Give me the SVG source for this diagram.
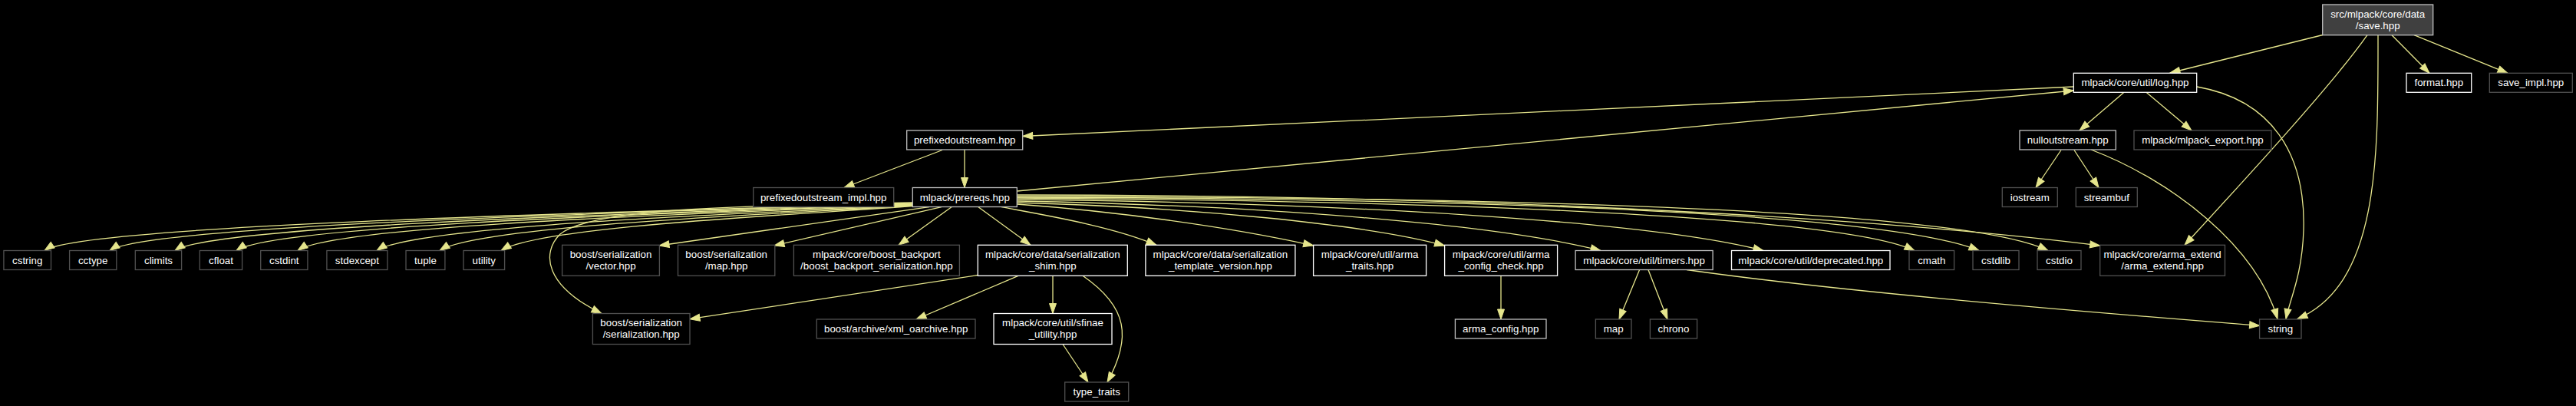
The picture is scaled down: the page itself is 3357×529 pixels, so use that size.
<svg xmlns="http://www.w3.org/2000/svg" width="3357" height="529" viewBox="0 0 3357 529">
<defs>
<style>
.n rect{fill:#000;stroke-width:1.3}
.w rect{stroke:#ffffff}
.g rect{stroke:#bfbfbf}
.d rect{stroke:#505050}
.f rect{fill:#404040;stroke:#bfbfbf}
text{font-family:"Liberation Sans",Arial,Helvetica,sans-serif;font-size:13.33px;fill:#ffffff;text-anchor:middle}
#edges path{fill:none;stroke:#e5e58c;stroke-width:1.3;marker-end:url(#a)}
</style>
<marker id="a" viewBox="0 0 13 9" refX="13" refY="4.5" markerWidth="13" markerHeight="9" markerUnits="userSpaceOnUse" orient="auto" overflow="visible">
<path d="M0,0 L13,4.5 L0,9 z" fill="#e5e58c" stroke="#e5e58c" stroke-width="1"/>
</marker>
</defs>
<rect width="3357" height="529" fill="#000"/>
<g id="edges">
<path d="M3027,45.5 L2828,95"/>
<path d="M3117,45.7 L3166,95.3"/>
<path d="M3146,45.7 L3268,95.3"/>
<path d="M3099,45.7 C3099,200 3102,370 2994,415.5"/>
<path d="M3085,45.7 C3040,110 2920,240 2847,319.3"/>
<path d="M2768,120.3 L2710,170"/>
<path d="M2797,120.3 L2856,170"/>
<path d="M2863,113 C2960,130 3005,200 3002,300 C3000,360 2984,390 2979,415.5"/>
<path d="M2702.3,113 L1332.7,177.5"/>
<path d="M1325.3,249 L2702.3,118"/>
<path d="M1257,195 L1257,244.5"/>
<path d="M1228,195.5 L1100,244.5"/>
<path d="M2686,195.5 L2653,244.5"/>
<path d="M2703,195.5 L2735,244.5"/>
<path d="M2725,195 C2830,235 2940,320 2968,415.5"/>
<path d="M1189.3,265 C906,274 110,291 58,326.5"/>
<path d="M1189.3,265.5 C927,274 195,291 143,326.5"/>
<path d="M1189.3,266 C949,275 280,291 228,326.5"/>
<path d="M1189.3,266.5 C969,275 360,291 308,326.5"/>
<path d="M1189.3,267 C989,276 440,291 388,326.5"/>
<path d="M1189.3,267.5 C1015,277 543,292 491,326.5"/>
<path d="M1189.3,268 C1035,278 625,293 573,326.5"/>
<path d="M1189.3,268.5 C1055,279 705,294 653,326.5"/>
<path d="M1211,269.7 L859,320"/>
<path d="M1227,269.7 L1009,320"/>
<path d="M1240,269.7 L1171,319.3"/>
<path d="M1275,269.7 L1343,319.3"/>
<path d="M1189.3,264 C950,268 770,272 730,305 C705,330 710,372 784,408.5"/>
<path d="M1305,269.7 C1360,280 1450,295 1507,319.3"/>
<path d="M1325.3,266 C1450,275 1600,295 1711.6,320"/>
<path d="M1325.3,264 C1550,270 1780,292 1882.6,320"/>
<path d="M1325.3,262 C1650,268 1950,292 2086,326.5"/>
<path d="M1325.3,260 C1750,264 2150,288 2298,326.5"/>
<path d="M1325.3,258 C1900,262 2400,282 2495,326.5"/>
<path d="M1325.3,257 C1950,259 2460,278 2579,326.5"/>
<path d="M1325.3,256 C2000,257 2560,274 2669,326.5"/>
<path d="M1325.3,254 C2000,254 2500,290 2736.7,320"/>
<path d="M1956,359.3 L1956,416"/>
<path d="M2136.6,351.5 L2110,416"/>
<path d="M2148,351.5 L2173,416"/>
<path d="M2198,351.5 C2400,380 2700,405 2944.6,424.3"/>
<path d="M1274.3,358.5 L899,415.7"/>
<path d="M1327,359.3 L1194,416"/>
<path d="M1372,359.3 L1372,408.5"/>
<path d="M1411,359.3 C1470,400 1475,440 1443,498"/>
<path d="M1385,448.5 L1418,498"/>
</g>
<g id="save" class="n f"><rect x="3026.7" y="6" width="144" height="39.7"/><text x="3098.7" y="22.5">src/mlpack/core/data</text><text x="3098.7" y="37.5">/save.hpp</text></g>
<g id="format" class="n w"><rect x="3136" y="95.3" width="84.7" height="25"/><text x="3178.3" y="112.4">format.hpp</text></g>
<g id="save_impl" class="n d"><rect x="3244.3" y="95.3" width="108" height="25"/><text x="3298.3" y="112.4">save_impl.hpp</text></g>
<g id="log" class="n w"><rect x="2702.3" y="95.3" width="160.4" height="25"/><text x="2782.5" y="112.4">mlpack/core/util/log.hpp</text></g>
<g id="nulloutstream" class="n g"><rect x="2632" y="170" width="125.3" height="25"/><text x="2694.7" y="187">nulloutstream.hpp</text></g>
<g id="mlpack_export" class="n d"><rect x="2781" y="170" width="179" height="25"/><text x="2870.5" y="187">mlpack/mlpack_export.hpp</text></g>
<g id="iostream" class="n d"><rect x="2609.3" y="244.5" width="72" height="25"/><text x="2645.3" y="261.5">iostream</text></g>
<g id="streambuf" class="n d"><rect x="2705.3" y="244.5" width="80" height="25"/><text x="2745.3" y="261.5">streambuf</text></g>
<g id="prefixedoutstream" class="n g"><rect x="1181.7" y="170" width="151" height="25"/><text x="1257.2" y="187">prefixedoutstream.hpp</text></g>
<g id="prereqs" class="n g"><rect x="1189.3" y="244.5" width="136" height="25"/><text x="1257.3" y="261.5">mlpack/prereqs.hpp</text></g>
<g id="prefixedoutstream_impl" class="n d"><rect x="981.7" y="244.5" width="183" height="25"/><text x="1073.2" y="261.5">prefixedoutstream_impl.hpp</text></g>
<g id="cstring" class="n d"><rect x="4.9" y="326.5" width="61.6" height="25"/><text x="35.7" y="343.5">cstring</text></g>
<g id="cctype" class="n d"><rect x="90.6" y="326.5" width="61.2" height="25"/><text x="121.2" y="343.5">cctype</text></g>
<g id="climits" class="n d"><rect x="176.3" y="326.5" width="60.3" height="25"/><text x="206.5" y="343.5">climits</text></g>
<g id="cfloat" class="n d"><rect x="260.3" y="326.5" width="55.3" height="25"/><text x="288" y="343.5">cfloat</text></g>
<g id="cstdint" class="n d"><rect x="339.7" y="326.5" width="61.2" height="25"/><text x="370.3" y="343.5">cstdint</text></g>
<g id="stdexcept" class="n d"><rect x="425.9" y="326.5" width="79" height="25"/><text x="465.4" y="343.5">stdexcept</text></g>
<g id="tuple" class="n d"><rect x="529" y="326.5" width="50.9" height="25"/><text x="554.5" y="343.5">tuple</text></g>
<g id="utility" class="n d"><rect x="604" y="326.5" width="53.6" height="25"/><text x="630.8" y="343.5">utility</text></g>
<g id="vector" class="n d"><rect x="732.6" y="319.3" width="126.8" height="40"/><text x="796" y="335.8">boost/serialization</text><text x="796" y="350.8">/vector.hpp</text></g>
<g id="maphpp" class="n d"><rect x="883.5" y="319.3" width="126.3" height="40"/><text x="946.7" y="335.8">boost/serialization</text><text x="946.7" y="350.8">/map.hpp</text></g>
<g id="boost_backport" class="n d"><rect x="1034.4" y="319.3" width="216" height="40"/><text x="1142.4" y="335.8">mlpack/core/boost_backport</text><text x="1142.4" y="350.8">/boost_backport_serialization.hpp</text></g>
<g id="shim" class="n w"><rect x="1274.3" y="319.3" width="195" height="40"/><text x="1371.8" y="335.8">mlpack/core/data/serialization</text><text x="1371.8" y="350.8">_shim.hpp</text></g>
<g id="template_version" class="n w"><rect x="1492.9" y="319.3" width="195" height="40"/><text x="1590.4" y="335.8">mlpack/core/data/serialization</text><text x="1590.4" y="350.8">_template_version.hpp</text></g>
<g id="arma_traits" class="n w"><rect x="1711.6" y="319.3" width="147" height="40"/><text x="1785.1" y="335.8">mlpack/core/util/arma</text><text x="1785.1" y="350.8">_traits.hpp</text></g>
<g id="arma_config_check" class="n w"><rect x="1882.6" y="319.3" width="147" height="40"/><text x="1956.1" y="335.8">mlpack/core/util/arma</text><text x="1956.1" y="350.8">_config_check.hpp</text></g>
<g id="timers" class="n g"><rect x="2053.1" y="326.5" width="179" height="25"/><text x="2142.6" y="343.5">mlpack/core/util/timers.hpp</text></g>
<g id="deprecated" class="n w"><rect x="2256.5" y="326.5" width="206.5" height="25"/><text x="2359.8" y="343.5">mlpack/core/util/deprecated.hpp</text></g>
<g id="cmath" class="n d"><rect x="2488" y="326.5" width="58.6" height="25"/><text x="2517.3" y="343.5">cmath</text></g>
<g id="cstdlib" class="n d"><rect x="2571" y="326.5" width="60" height="25"/><text x="2601" y="343.5">cstdlib</text></g>
<g id="cstdio" class="n d"><rect x="2655" y="326.5" width="57" height="25"/><text x="2683.5" y="343.5">cstdio</text></g>
<g id="arma_extend" class="n d"><rect x="2736.7" y="319.3" width="162.8" height="40"/><text x="2818.1" y="335.8">mlpack/core/arma_extend</text><text x="2818.1" y="350.8">/arma_extend.hpp</text></g>
<g id="serialization" class="n d"><rect x="772.4" y="408.5" width="126.6" height="40"/><text x="835.7" y="425">boost/serialization</text><text x="835.7" y="440">/serialization.hpp</text></g>
<g id="xml_oarchive" class="n d"><rect x="1064.3" y="416" width="206.7" height="25"/><text x="1167.7" y="433">boost/archive/xml_oarchive.hpp</text></g>
<g id="sfinae" class="n w"><rect x="1295" y="408.5" width="154" height="40"/><text x="1372" y="425">mlpack/core/util/sfinae</text><text x="1372" y="440">_utility.hpp</text></g>
<g id="arma_config" class="n g"><rect x="1896.4" y="416" width="118.6" height="25"/><text x="1955.7" y="433">arma_config.hpp</text></g>
<g id="map" class="n d"><rect x="2079.4" y="416" width="46.6" height="25"/><text x="2102.7" y="433">map</text></g>
<g id="chrono" class="n d"><rect x="2150.4" y="416" width="61.2" height="25"/><text x="2181" y="433">chrono</text></g>
<g id="string" class="n d"><rect x="2944.6" y="416" width="54.4" height="25"/><text x="2971.8" y="433">string</text></g>
<g id="type_traits" class="n d"><rect x="1387.7" y="498" width="83" height="25"/><text x="1429.2" y="515">type_traits</text></g>
</svg>
